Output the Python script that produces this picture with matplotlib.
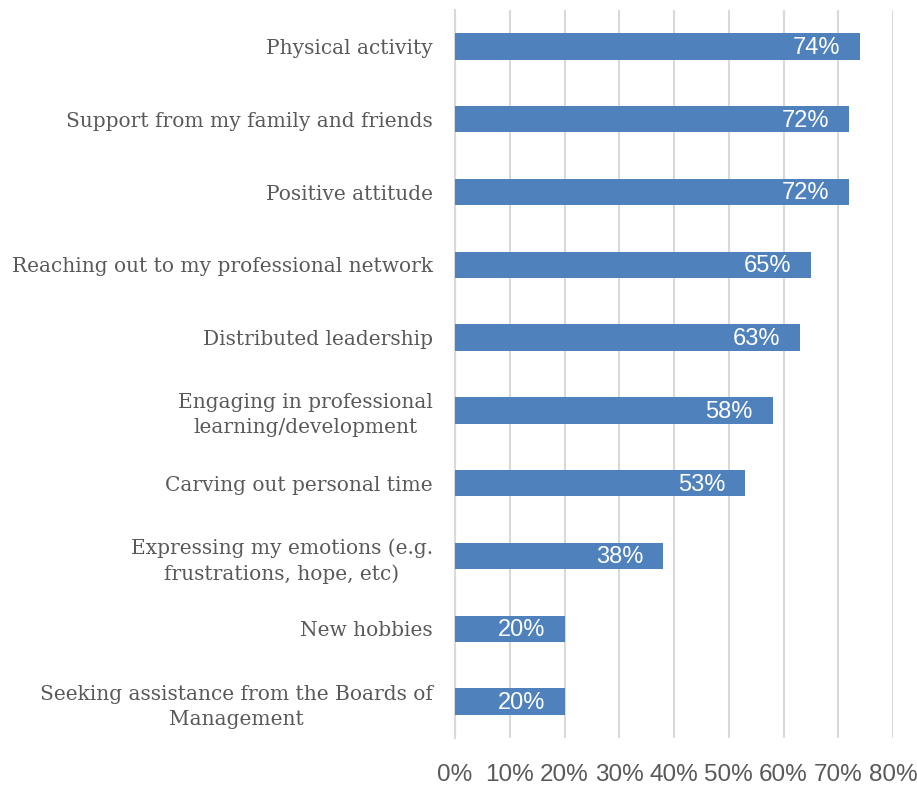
import matplotlib.pyplot as plt
import numpy as np

categories = [
    "Physical activity",
    "Support from my family and friends",
    "Positive attitude",
    "Reaching out to my professional network",
    "Distributed leadership",
    "Engaging in professional\nlearning/development",
    "Carving out personal time",
    "Expressing my emotions (e.g.\nfrustrations, hope, etc)",
    "New hobbies",
    "Seeking assistance from the Boards of\nManagement",
]
values = [74, 72, 72, 65, 63, 58, 53, 38, 20, 20]
xticks = [0, 10, 20, 30, 40, 50, 60, 70, 80]

bar_color = "#4F81BD"
text_gray = "#595959"

fig = plt.figure(figsize=(9.17, 7.87), dpi=100)
ax = fig.add_axes([455 / 917, 1 - 738 / 787, (893 - 455) / 917, 728 / 787])

y = np.arange(len(categories))
ax.barh(y, values, height=0.36, color=bar_color, zorder=3)

for yi, v in zip(y, values):
    ax.text(v - 3.6, yi + 0.02, f"{v}%", ha="right", va="center", color="white",
            fontsize=17, family="Liberation Sans", zorder=4)

ax.set_xlim(0, 80)
ax.set_ylim(len(categories) - 0.5, -0.5)
ax.set_xticks(xticks)
ax.set_xticklabels([f"{t}%" for t in xticks], family="Liberation Sans",
                   fontsize=17.5, color=text_gray)
ax.set_yticks(y)
ax.set_yticklabels(categories, family="DejaVu Serif", fontsize=14.5,
                   color=text_gray, multialignment="center", linespacing=1.4)

ax.grid(axis="x", color="#D9D9D9", linewidth=1.5, zorder=0)
for s in ["top", "right", "bottom"]:
    ax.spines[s].set_visible(False)
ax.spines["left"].set_color("#D9D9D9")
ax.spines["left"].set_linewidth(1.5)
ax.tick_params(axis="both", length=0)
ax.tick_params(axis="x", pad=19)
ax.tick_params(axis="y", pad=16)

fig.savefig("out.png", dpi=100)
